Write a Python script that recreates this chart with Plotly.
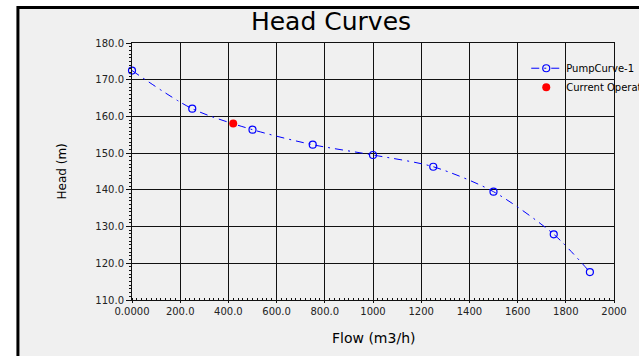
import plotly.graph_objects as go

# ---- data ----
flow = [0, 250, 500, 750, 1000, 1250, 1500, 1750, 1900]
head = [172.5, 162.1, 156.4, 152.3, 149.5, 146.3, 139.5, 127.9, 117.6]
op_flow = [420]
op_head = [158.1]

x_tickvals = [0, 200, 400, 600, 800, 1000, 1200, 1400, 1600, 1800, 2000]
x_ticktext = ["0.0000", "200.0", "400.0", "600.0", "800.0", "1000", "1200", "1400", "1600", "1800", "2000"]
y_tickvals = [110, 120, 130, 140, 150, 160, 170, 180]
y_ticktext = ["110.0", "120.0", "130.0", "140.0", "150.0", "160.0", "170.0", "180.0"]

FONT = "DejaVu Sans"
W, H = 639, 356
# plot area in reference pixel coordinates
PX0, PX1, PY0, PY1 = 132, 613.7, 43.3, 299.7
ML = PX0
MT = PY0
MR = W - PX1
MB = H - PY1
PW = PX1 - PX0
PH = PY1 - PY0


def px_x(px):
    return (px - PX0) / PW


def px_y(py):
    return (PY1 - py) / PH


fig = go.Figure()
fig.add_trace(go.Scatter(
    x=flow, y=head, name="PumpCurve-1", mode="lines+markers",
    line=dict(color="#0000ff", width=1, dash="8px,5px,2px,5px", shape="spline", smoothing=0.8),
    marker=dict(symbol="circle-open", size=7, color="#0000ff", line=dict(width=1.2)),
    cliponaxis=False,
))
fig.add_trace(go.Scatter(
    x=op_flow, y=op_head, name="Current Operating Point", mode="markers",
    marker=dict(symbol="circle", size=8, color="#ff0000"),
    cliponaxis=False,
))

# outer frame
fig.add_shape(type="rect", xref="paper", yref="paper",
              x0=px_x(18), x1=px_x(700), y0=px_y(420), y1=px_y(8),
              line=dict(color="black", width=3), fillcolor="#f0f0f0", layer="below")

axis_common = dict(showline=True, linecolor="#111", linewidth=1, mirror=True,
                   showgrid=True, gridcolor="#111", gridwidth=1, zeroline=False,
                   tickfont=dict(family=FONT, size=10, color="#222"))

fig.update_xaxes(range=[0, 2000], tickvals=x_tickvals, ticktext=x_ticktext,
                 ticks="outside", ticklen=2, tickcolor="#111",
                 minor=dict(dtick=20, ticks="inside", ticklen=2, tickcolor="#111", showgrid=False),
                 **axis_common)
fig.update_yaxes(range=[110, 180], tickvals=y_tickvals, ticktext=y_ticktext,
                 ticks="outside", ticklen=5, tickcolor="#111",
                 minor=dict(dtick=1, ticks="outside", ticklen=2, tickcolor="#111", showgrid=False),
                 **axis_common)

fig.add_annotation(text="Head (m)", xref="paper", yref="paper", x=px_x(62), y=px_y(171.5),
                   xanchor="center", yanchor="middle", textangle=-90, showarrow=False,
                   font=dict(family=FONT, size=12, color="black"))
fig.add_annotation(text="Flow (m3/h)", xref="paper", yref="paper", x=px_x(373), y=px_y(337.5),
                   xanchor="center", yanchor="middle", showarrow=False,
                   font=dict(family=FONT, size=14, color="black"))

fig.update_layout(
    width=W, height=H,
    margin=dict(l=ML, r=MR, t=MT, b=MB, autoexpand=False),
    paper_bgcolor="white", plot_bgcolor="#f0f0f0",
    title=dict(text="Head Curves", x=331 / W, xanchor="center", y=1 - 21 / H,
               yanchor="middle", font=dict(family=FONT, size=25, color="black")),
    legend=dict(x=px_x(526), y=px_y(54), xanchor="left", yanchor="top",
                bgcolor="rgba(0,0,0,0)", font=dict(family=FONT, size=10, color="black"),
                tracegroupgap=0, itemwidth=30),
    showlegend=True,
)

# remove the default page margin so the figure fills the 639x356 window exactly
fig.write_html("out.html", config={"displayModeBar": False},
               post_script="document.body.style.margin='0px';document.body.style.overflow='hidden';")
